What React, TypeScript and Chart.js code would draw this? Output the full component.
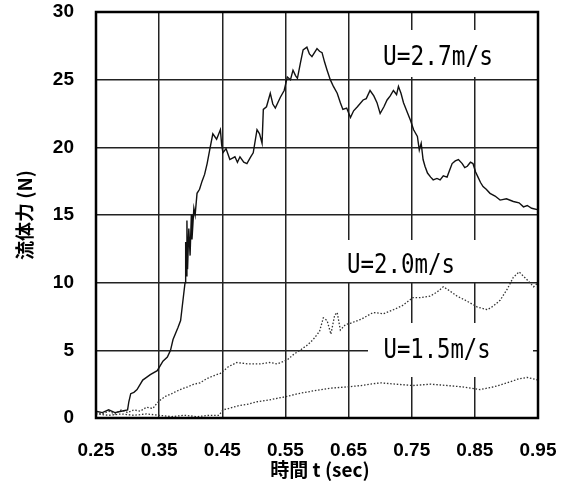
import React, { useEffect, useRef } from "react";
import { Chart, registerables } from "chart.js";

Chart.register(...registerables);

const xTicks = [0.25, 0.35, 0.45, 0.55, 0.65, 0.75, 0.85, 0.95];
const yTicks = [0, 5, 10, 15, 20, 25, 30];

const u27T = [0.25, 0.26, 0.27, 0.28, 0.29, 0.3, 0.302, 0.305, 0.31, 0.315, 0.324, 0.33, 0.336, 0.347, 0.356, 0.363, 0.368, 0.372, 0.38, 0.384, 0.386, 0.389, 0.391, 0.392, 0.393, 0.394, 0.395, 0.397, 0.399, 0.401, 0.402, 0.405, 0.407, 0.41, 0.414, 0.418, 0.422, 0.426, 0.43, 0.435, 0.441, 0.447, 0.449, 0.451, 0.456, 0.462, 0.47, 0.474, 0.478, 0.484, 0.489, 0.495, 0.499, 0.505, 0.509, 0.513, 0.515, 0.52, 0.526, 0.53, 0.534, 0.542, 0.548, 0.553, 0.558, 0.562, 0.566, 0.569, 0.574, 0.578, 0.584, 0.588, 0.592, 0.596, 0.6, 0.604, 0.608, 0.612, 0.616, 0.621, 0.626, 0.632, 0.637, 0.641, 0.647, 0.653, 0.658, 0.664, 0.673, 0.678, 0.684, 0.69, 0.695, 0.7, 0.706, 0.711, 0.716, 0.721, 0.726, 0.729, 0.733, 0.737, 0.742, 0.748, 0.753, 0.759, 0.762, 0.765, 0.768, 0.771, 0.775, 0.78, 0.784, 0.79, 0.795, 0.8, 0.806, 0.81, 0.814, 0.819, 0.824, 0.83, 0.834, 0.838, 0.843, 0.847, 0.851, 0.855, 0.859, 0.863, 0.868, 0.874, 0.882, 0.89, 0.9, 0.911, 0.92, 0.927, 0.933, 0.94, 0.949];
const u27F = [0.5, 0.4, 0.6, 0.4, 0.5, 0.6, 1.2, 1.8, 1.9, 2.1, 2.8, 3.0, 3.2, 3.5, 4.2, 4.5, 5.0, 5.8, 6.7, 7.2, 8.0, 9.2, 10.0, 13.0, 10.5, 14.6, 11.0, 14.0, 12.0, 15.0, 13.2, 15.5, 15.0, 16.6, 16.9, 17.5, 18.0, 18.8, 19.8, 21.0, 20.6, 21.3, 20.2, 19.6, 19.9, 19.1, 19.3, 18.9, 19.3, 18.9, 18.8, 19.3, 19.6, 21.3, 21.0, 20.3, 22.8, 23.0, 24.0, 23.2, 22.9, 23.7, 24.2, 25.2, 25.0, 25.7, 25.3, 25.1, 26.3, 27.2, 27.4, 26.9, 26.7, 27.0, 27.3, 27.1, 27.0, 26.3, 25.7, 25.0, 24.5, 24.0, 23.3, 22.8, 22.9, 22.2, 22.7, 23.0, 23.5, 23.6, 24.2, 23.8, 23.3, 22.5, 23.0, 23.5, 23.8, 24.2, 23.9, 24.5, 24.0, 23.3, 22.7, 22.0, 21.3, 20.8, 19.8, 20.3, 19.1, 18.6, 18.1, 17.8, 17.6, 17.7, 17.6, 17.9, 17.8, 18.3, 18.8, 19.0, 19.1, 18.8, 18.5, 18.6, 18.9, 18.8, 18.2, 17.8, 17.4, 17.1, 16.9, 16.6, 16.4, 16.1, 16.2, 16.0, 15.9, 15.6, 15.7, 15.5, 15.4];

const u20T = [0.25, 0.26, 0.27, 0.28, 0.29, 0.3, 0.31, 0.32, 0.33, 0.34, 0.345, 0.351, 0.36, 0.37, 0.383, 0.395, 0.405, 0.415, 0.425, 0.435, 0.447, 0.46, 0.473, 0.49, 0.51, 0.525, 0.537, 0.553, 0.563, 0.573, 0.585, 0.594, 0.604, 0.61, 0.616, 0.622, 0.628, 0.632, 0.637, 0.645, 0.653, 0.67, 0.689, 0.705, 0.721, 0.735, 0.752, 0.765, 0.779, 0.79, 0.8, 0.81, 0.822, 0.835, 0.854, 0.87, 0.88, 0.89, 0.901, 0.911, 0.92, 0.933, 0.943, 0.95];
const u20F = [0.4, 0.3, 0.5, 0.3, 0.6, 0.4, 0.6, 0.5, 0.8, 0.7, 1.0, 1.3, 1.6, 1.8, 2.1, 2.3, 2.5, 2.6, 2.9, 3.1, 3.3, 3.8, 4.1, 4.0, 4.0, 4.1, 4.0, 4.3, 4.7, 5.0, 5.4, 5.8, 6.4, 7.4, 7.2, 6.2, 7.6, 7.8, 6.5, 6.9, 7.0, 7.3, 7.8, 7.7, 8.0, 8.3, 8.9, 8.9, 9.0, 9.3, 9.7, 9.4, 9.0, 8.7, 8.2, 8.0, 8.3, 8.7, 9.5, 10.4, 10.8, 10.2, 9.7, 10.0];

const u15T = [0.25, 0.27, 0.29, 0.31, 0.33, 0.35, 0.37, 0.39, 0.41, 0.43, 0.445, 0.451, 0.46, 0.475, 0.489, 0.505, 0.52, 0.542, 0.553, 0.57, 0.594, 0.62, 0.648, 0.67, 0.7, 0.725, 0.752, 0.78, 0.806, 0.83, 0.858, 0.88, 0.901, 0.92, 0.933, 0.95];
const u15F = [0.3, 0.2, 0.3, 0.2, 0.3, 0.2, 0.1, 0.2, 0.1, 0.2, 0.2, 0.6, 0.7, 0.9, 1.0, 1.2, 1.3, 1.5, 1.6, 1.8, 2.0, 2.2, 2.3, 2.4, 2.6, 2.5, 2.4, 2.5, 2.4, 2.3, 2.1, 2.3, 2.6, 2.9, 3.0, 2.8];

const seriesLabels = ["U=2.7m/s", "U=2.0m/s", "U=1.5m/s"];
const xTitle = "時間 t (sec)";
const yTitle = "流体力 (N)";

const toPts = (t: number[], f: number[]) => t.map((x, i) => ({ x, y: f[i] }));

const overlayPlugin = {
  id: "overlay",
  beforeDatasetsDraw(chart: any) {
    const ctx = chart.ctx;
    ctx.save();
    ctx.fillStyle = "#fff";
    ctx.fillRect(352, 30, 181, 47);
    ctx.fillRect(330, 240, 202, 42);
    ctx.fillRect(368, 323, 165, 54);
    ctx.restore();
  },
  afterDatasetsDraw(chart: any) {
    const ctx = chart.ctx;
    const a = chart.chartArea;
    ctx.save();
    ctx.strokeStyle = "#000";
    ctx.lineWidth = 2.5;
    ctx.strokeRect(a.left, a.top, a.right - a.left, a.bottom - a.top);
    ctx.fillStyle = "#000";
    ctx.font = '26px "DejaVu Sans Mono"';
    ctx.textAlign = "center";
    ctx.textBaseline = "alphabetic";
    ctx.fillText(seriesLabels[0], 438, 65, 110);
    ctx.fillText(seriesLabels[1], 401, 273, 108);
    ctx.fillText(seriesLabels[2], 437, 358, 107);
    ctx.font = 'bold 19px "Noto Sans CJK JP"';
    ctx.textBaseline = "middle";
    ctx.fillText(xTitle, 320, 470, 134);
    ctx.translate(25, 215);
    ctx.rotate(-Math.PI / 2);
    ctx.fillText(yTitle, 0, 0, 100);
    ctx.restore();
  },
};

export default function App() {
  const ref = useRef<HTMLCanvasElement | null>(null);
  useEffect(() => {
    if (!ref.current) return;
    const tickFont = { family: '"Liberation Sans", Arial, sans-serif', size: 19, weight: "bold" as const };
    const chart = new Chart(ref.current, {
      type: "line",
      data: {
        datasets: [
          {
            label: seriesLabels[0],
            data: toPts(u27T, u27F),
            borderColor: "#111",
            borderWidth: 1.4,
            pointRadius: 0,
            tension: 0,
          },
          {
            label: seriesLabels[1],
            data: toPts(u20T, u20F),
            borderColor: "#333",
            borderWidth: 1.3,
            borderDash: [1.5, 1.8],
            pointRadius: 0,
            tension: 0,
          },
          {
            label: seriesLabels[2],
            data: toPts(u15T, u15F),
            borderColor: "#333",
            borderWidth: 1.3,
            borderDash: [1.5, 1.8],
            pointRadius: 0,
            tension: 0,
          },
        ],
      },
      options: {
        animation: false,
        responsive: true,
        maintainAspectRatio: false,
        layout: { padding: { top: 12, right: 28, left: 0, bottom: 0 } },
        plugins: { legend: { display: false }, tooltip: { enabled: false } },
        scales: {
          x: {
            type: "linear",
            min: 0.25,
            max: 0.95,
            afterBuildTicks: (s: any) => {
              s.ticks = xTicks.map((v) => ({ value: v }));
            },
            afterFit: (s: any) => {
              s.height = 64;
              s.paddingLeft = 0;
              s.paddingRight = 0;
              s.paddingTop = 0;
              s.paddingBottom = 0;
            },
            ticks: {
              autoSkip: false,
              maxRotation: 0,
              padding: 21,
              color: "#000",
              font: tickFont,
              callback: (v: any) => Number(v).toFixed(2),
            },
            grid: { color: "#222", lineWidth: 1.5, drawTicks: false },
            border: { display: false },
          },
          y: {
            type: "linear",
            min: 0,
            max: 30,
            afterBuildTicks: (s: any) => {
              s.ticks = yTicks.map((v) => ({ value: v }));
            },
            afterFit: (s: any) => {
              s.width = 96;
              s.paddingLeft = 0;
              s.paddingRight = 0;
              s.paddingTop = 0;
              s.paddingBottom = 0;
            },
            ticks: {
              padding: 22,
              color: "#000",
              font: tickFont,
              callback: (v: any) => String(v),
            },
            grid: { color: "#222", lineWidth: 1.5, drawTicks: false },
            border: { display: false },
          },
        },
      },
      plugins: [overlayPlugin],
    });
    return () => chart.destroy();
  }, []);
  return (
    <div style={{ position: "fixed", left: 0, top: 0, width: 566, height: 482, background: "#fff" }}>
      <canvas ref={ref} />
    </div>
  );
}
